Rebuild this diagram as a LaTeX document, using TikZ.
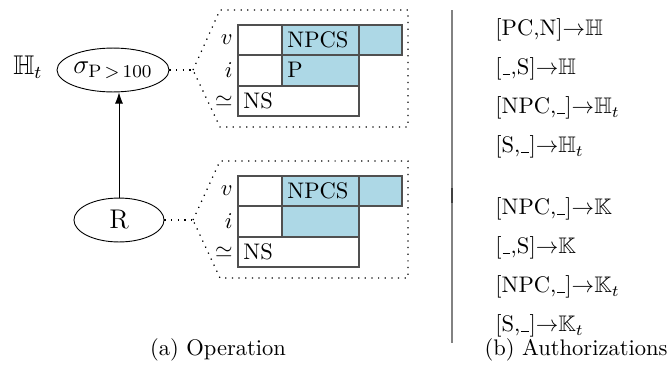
\documentclass[tikz,border=0pt]{standalone}
\usepackage{amssymb}
\usetikzlibrary{shapes.geometric,arrows.meta}
\definecolor{cellblue}{RGB}{173,216,230}
\definecolor{gridgray}{RGB}{80,80,80}
\definecolor{rulegray}{RGB}{130,130,130}
\newcommand{\authblank}{\kern0.4pt\rule{3.2pt}{0.45pt}\kern0.4pt}
\newcommand{\authto}{$\mathord{\rightarrow}$}
\begin{document}
\begin{tikzpicture}[x=0.444pt,y=-0.444pt,
  opnode/.style={draw,ellipse,inner sep=0pt,font=\large},
  callout/.style={draw,line width=0.55pt,dash pattern=on 0.55pt off 2.4pt},
  cell/.style={draw=gridgray,line width=0.6pt},
  bluecell/.style={cell,fill=cellblue},
  rowlabel/.style={anchor=east,inner sep=0pt},
  celltext/.style={anchor=west,inner sep=0pt},
  auth/.style={anchor=west,inner sep=0pt},
  capt/.style={inner sep=0pt}]
\useasboundingbox (0,0) rectangle (670,367);

% operation tree
\node[opnode,minimum width=48pt,minimum height=19.5pt] (sel) at (113,70) {$\sigma_{\mathrm{P}\,>\,100}$};
\node[opnode,minimum width=40pt,minimum height=19.5pt] (rel) at (119,220) {R};
\draw[-{Latex[length=5pt,width=3.6pt]}] (rel.north) -- (rel.north |- sel.south);
\node[font=\large] (ht) at (28,67) {$\mathbb{H}_t$};

% callouts
\coordinate (ct) at (193,70);
\draw[callout] (sel.east) -- (ct);
\draw[callout] (ct) -- (220,10) -- (408,10) -- (408,127) -- (220,127) -- cycle;
\coordinate (cb) at (193,220);
\draw[callout] (rel.east) -- (cb);
\draw[callout] (cb) -- (220,161) -- (408,161) -- (408,278) -- (220,278) -- cycle;

% top table
\draw[cell] (238,25) rectangle (282,55);
\draw[bluecell] (282,25) rectangle (359,55);
\draw[bluecell] (359,25) rectangle (402,55);
\draw[cell] (238,55) rectangle (282,86);
\draw[bluecell] (282,55) rectangle (359,86);
\draw[cell] (238,86) rectangle (359,116);
\node[rowlabel] (tv) at (233,40) {$v$};
\node[rowlabel] (ti) at (233,70) {$i$};
\node[rowlabel] (ts) at (233,101) {$\simeq$};
\node[celltext] (tnpcs) at (287,40) {NPCS};
\node[celltext] (tp) at (287,70) {P};
\node[celltext] (tns) at (243,101) {NS};

% bottom table
\begin{scope}[shift={(0,151)}]
\draw[cell] (238,25) rectangle (282,55);
\draw[bluecell] (282,25) rectangle (359,55);
\draw[bluecell] (359,25) rectangle (402,55);
\draw[cell] (238,55) rectangle (282,86);
\draw[bluecell] (282,55) rectangle (359,86);
\draw[cell] (238,86) rectangle (359,116);
\node[rowlabel] (bv) at (233,40) {$v$};
\node[rowlabel] (bi) at (233,70) {$i$};
\node[rowlabel] (bs) at (233,101) {$\simeq$};
\node[celltext] (bnpcs) at (287,40) {NPCS};
\node[celltext] (bns) at (243,101) {NS};
\end{scope}

% separator
\draw[rulegray,line width=0.65pt] (452,10) -- (452,343);
\draw[black!75,line width=0.65pt] (452,188) -- (452,203);

% authorizations
\node[auth] (a1) at (495,30) {[PC,N]\authto$\mathbb{H}$};
\node[auth] (a2) at (495,69) {[\authblank,S]\authto$\mathbb{H}$};
\node[auth] (a3) at (495,108) {[NPC,\authblank]\authto$\mathbb{H}_t$};
\node[auth] (a4) at (495,147) {[S,\authblank]\authto$\mathbb{H}_t$};
\node[auth] (a5) at (495,209) {[NPC,\authblank]\authto$\mathbb{K}$};
\node[auth] (a6) at (495,248) {[\authblank,S]\authto$\mathbb{K}$};
\node[auth] (a7) at (495,287) {[NPC,\authblank]\authto$\mathbb{K}_t$};
\node[auth] (a8) at (495,326) {[S,\authblank]\authto$\mathbb{K}_t$};

% captions
\node[capt] (capa) at (218,350) {(a) Operation};
\node[capt] (capb) at (576,350) {(b) Authorizations};
\end{tikzpicture}
\end{document}
